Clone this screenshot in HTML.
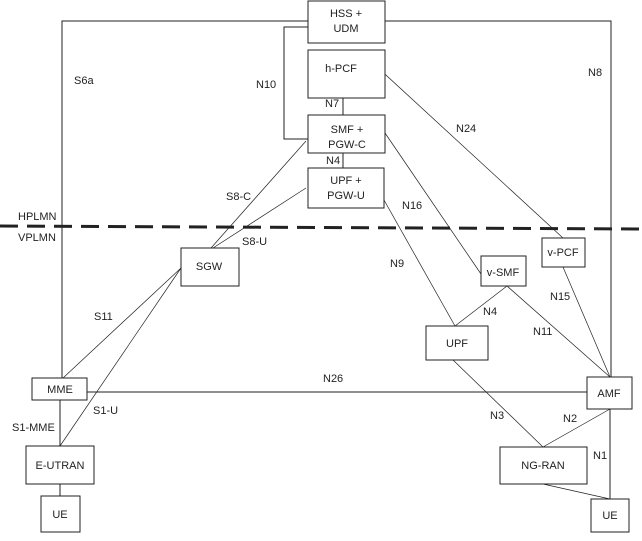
<!DOCTYPE html>
<html><head><style>
body{margin:0;background:#fff;}
svg text{font-family:"Liberation Sans",Arial,sans-serif;font-size:11px;fill:#222;}
</style></head><body>
<svg width="642" height="536" xmlns="http://www.w3.org/2000/svg">
<g stroke="#222" stroke-width="1" fill="none">
<polyline points="62,378 62,21 308,21"/>
<polyline points="385,21 611,21 611,377"/>
<polyline points="308,27 284,27 284,139 308,139"/>
<line x1="343" y1="98" x2="343" y2="115"/>
<line x1="343" y1="153" x2="343" y2="168"/>
<line x1="375" y1="65" x2="563" y2="238" stroke-width="0.7"/>
<line x1="385" y1="133" x2="481" y2="274" stroke-width="0.7"/>
<line x1="384" y1="200" x2="455" y2="326" stroke-width="0.7"/>
<line x1="306" y1="141" x2="211" y2="248" stroke-width="0.7"/>
<line x1="306" y1="188" x2="213" y2="248" stroke-width="0.7"/>
<line x1="181" y1="268" x2="63" y2="378" stroke-width="0.7"/>
<line x1="181" y1="268" x2="60" y2="446" stroke-width="0.7"/>
<line x1="60" y1="400" x2="60" y2="446"/>
<line x1="60" y1="484" x2="60" y2="496"/>
<line x1="87" y1="392" x2="587" y2="392"/>
<line x1="507" y1="286" x2="455" y2="326" stroke-width="0.7"/>
<line x1="507" y1="286" x2="610" y2="377" stroke-width="0.7"/>
<line x1="563" y1="267" x2="610" y2="377" stroke-width="0.7"/>
<line x1="453" y1="360" x2="543" y2="447" stroke-width="0.7"/>
<line x1="610" y1="409" x2="543" y2="447" stroke-width="0.7"/>
<line x1="610" y1="409" x2="610" y2="499"/>
<line x1="543" y1="484" x2="610" y2="499" stroke-width="0.7"/>
<line x1="0" y1="226" x2="642" y2="229" stroke-width="3" stroke-dasharray="18,9"/>
</g>
<g stroke="#222" stroke-width="1" fill="#fff">
<rect x="308" y="1" width="77" height="42"/>
<rect x="308" y="50" width="77" height="48"/>
<rect x="308" y="115" width="77" height="38"/>
<rect x="308" y="168" width="76" height="40"/>
<rect x="181" y="248" width="58" height="38"/>
<rect x="542" y="238" width="43" height="29"/>
<rect x="481" y="256" width="45" height="30"/>
<rect x="426" y="326" width="62" height="34"/>
<rect x="587" y="377" width="45" height="32"/>
<rect x="500" y="447" width="87" height="37"/>
<rect x="591" y="499" width="38" height="33"/>
<rect x="32" y="378" width="55" height="22"/>
<rect x="26" y="446" width="68" height="38"/>
<rect x="41" y="496" width="39" height="36"/>
</g>
<g text-anchor="middle">
<text x="346" y="17">HSS +</text><text x="346" y="32">UDM</text>
<text x="341" y="72">h-PCF</text>
<text x="347" y="133">SMF +</text><text x="347" y="148">PGW-C</text>
<text x="346" y="184">UPF +</text><text x="346" y="199">PGW-U</text>
<text x="209" y="270">SGW</text>
<text x="563" y="256">v-PCF</text>
<text x="503" y="276">v-SMF</text>
<text x="457" y="347">UPF</text>
<text x="609" y="397">AMF</text>
<text x="543" y="469">NG-RAN</text>
<text x="610" y="519">UE</text>
<text x="60" y="393">MME</text>
<text x="60" y="469">E-UTRAN</text>
<text x="60" y="518">UE</text>
</g>
<text x="74" y="84">S6a</text>
<text x="588" y="76">N8</text>
<text x="256" y="88">N10</text>
<text x="325" y="107">N7</text>
<text x="456" y="132">N24</text>
<text x="326" y="164">N4</text>
<text x="226" y="200">S8-C</text>
<text x="402" y="209">N16</text>
<text x="242" y="245">S8-U</text>
<text x="18" y="220">HPLMN</text>
<text x="18" y="241">VPLMN</text>
<text x="390" y="267">N9</text>
<text x="483" y="315">N4</text>
<text x="550" y="300">N15</text>
<text x="533" y="335">N11</text>
<text x="94" y="320">S11</text>
<text x="323" y="382">N26</text>
<text x="93" y="414">S1-U</text>
<text x="12" y="431">S1-MME</text>
<text x="490" y="419">N3</text>
<text x="563" y="422">N2</text>
<text x="593" y="459">N1</text>
</svg>
</body></html>
